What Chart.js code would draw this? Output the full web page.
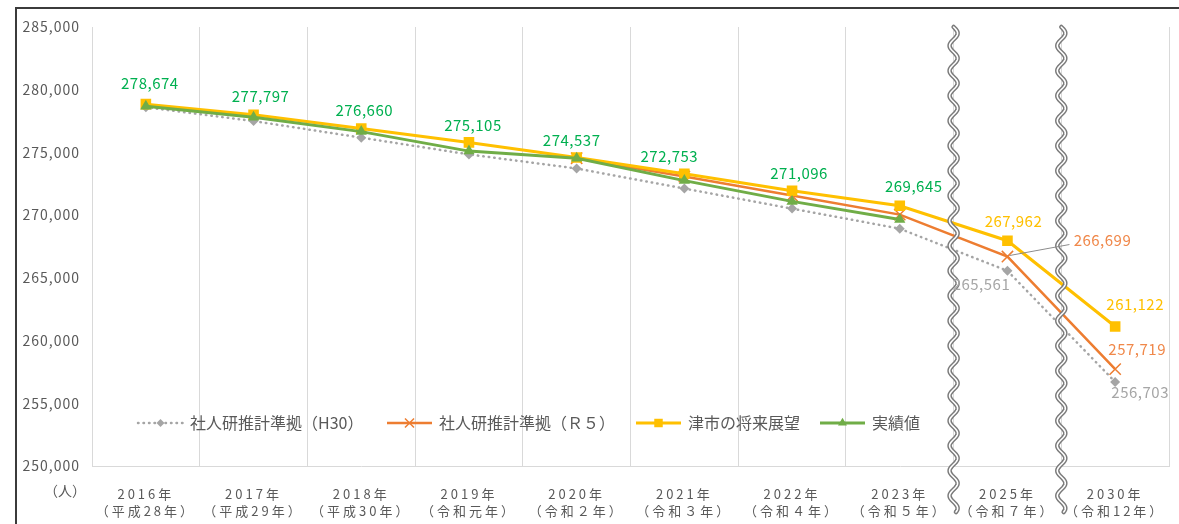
<!DOCTYPE html>
<html lang="ja">
<head>
<meta charset="utf-8">
<script src="https://cdn.jsdelivr.net/npm/chart.js@4.4.1/dist/chart.umd.min.js"></script>
<style>
  html, body { margin: 0; padding: 0; width: 1179px; height: 524px; overflow: hidden; background: #fff; }
  #frame { position: absolute; left: 15px; top: 7px; width: 1200px; height: 560px; border: 2px solid #3b3b3b; box-sizing: border-box; }
  #wrap { position: absolute; left: 0; top: 0; width: 1179px; height: 524px; }
</style>
</head>
<body>
<div id="frame"></div>
<div id="wrap"><canvas id="chart" width="1179" height="524"></canvas></div>
<script>
// 年次ラベル
const years = [
    ['2016年', '（平成28年）'],
    ['2017年', '（平成29年）'],
    ['2018年', '（平成30年）'],
    ['2019年', '（令和元年）'],
    ['2020年', '（令和２年）'],
    ['2021年', '（令和３年）'],
    ['2022年', '（令和４年）'],
    ['2023年', '（令和５年）'],
    ['2025年', '（令和７年）'],
    ['2030年', '（令和12年）']
];

// 系列データ（人）
const actual   = [278674, 277797, 276660, 275105, 274537, 272753, 271096, 269645, null, null];
const tsuPlan  = [278850, 278000, 276900, 275800, 274600, 273300, 271950, 270750, 267962, 261122];
const ipssR5   = [null, null, null, null, 274537, 273080, 271560, 270040, 266699, 257719];
const ipssH30  = [278600, 277500, 276180, 274840, 273720, 272120, 270520, 268920, 265561, 256703];

// 軸目盛
const yMin = 250000;
const yMax = 285000;
const yStep = 5000;

const FONT = '"Noto Sans CJK JP", "Noto Sans", sans-serif';
const GREY_TEXT = '#595959';

// 表示する数値ラベル（系列, 年index, ずらし量）
const valueLabels = [
    { ds: 0, i: 0, dx: 4, dy: -23, color: '#00B050' },
    { ds: 0, i: 1, dx: 7, dy: -21, color: '#00B050' },
    { ds: 0, i: 2, dx: 3, dy: -21, color: '#00B050' },
    { ds: 0, i: 3, dx: 4, dy: -26, color: '#00B050' },
    { ds: 0, i: 4, dx: -5, dy: -18, color: '#00B050' },
    { ds: 0, i: 5, dx: -15, dy: -24, color: '#00B050' },
    { ds: 0, i: 6, dx: 7, dy: -28, color: '#00B050' },
    { ds: 0, i: 7, dx: 14, dy: -33, color: '#00B050' },
    { ds: 1, i: 8, dx: 6, dy: -19, color: '#FFC000' },
    { ds: 1, i: 9, dx: 20, dy: -22, color: '#FFC000' },
    { ds: 2, i: 8, dx: 95, dy: -16, color: '#F0884A', leader: true },
    { ds: 2, i: 9, dx: 22, dy: -20, color: '#F0884A' },
    { ds: 3, i: 8, dx: -26, dy: 13, color: '#A6A6A6' },
    { ds: 3, i: 9, dx: 25, dy: 10, color: '#A6A6A6' }
];

// 凡例
const legendItems = [
    { ds: 3, text: '社人研推計準拠（H30）', x: 46 },
    { ds: 2, text: '社人研推計準拠（Ｒ５）', x: 295 },
    { ds: 1, text: '津市の将来展望', x: 544 },
    { ds: 0, text: '実績値', x: 728 }
];

const fmt = v => v.toLocaleString('en-US');

// 目盛文字の字間
const spacingPlugin = {
    id: 'spacing',
    beforeDraw(chart) { chart.ctx.letterSpacing = '1px'; },
    beforeDatasetsDraw(chart) { chart.ctx.letterSpacing = '0px'; },
    afterDatasetsDraw(chart) { chart.ctx.letterSpacing = '3px'; }
};

// 省略記号（波線）
const wavePlugin = {
    id: 'waves',
    afterDraw(chart) {
        const ctx = chart.ctx;
        const xs = chart.scales.x;
        [7, 8].forEach(i => {
            const x = (xs.getPixelForValue(i) + xs.getPixelForValue(i + 1)) / 2;
            const top = chart.chartArea.top;
            const bottom = 512;
            ctx.save();
            ctx.beginPath();
            for (let y = top; y <= bottom; y += 0.5) {
                const px = x + 4 * Math.sin((y - top) / 25 * Math.PI * 2);
                if (y === top) ctx.moveTo(px, y); else ctx.lineTo(px, y);
            }
            ctx.lineCap = 'round';
            ctx.strokeStyle = '#7a7a7a';
            ctx.lineWidth = 4.5;
            ctx.stroke();
            ctx.strokeStyle = '#ffffff';
            ctx.lineWidth = 1.6;
            ctx.stroke();
            ctx.restore();
        });
    }
};

// 数値ラベル・凡例・単位
const labelPlugin = {
    id: 'labels',
    afterDraw(chart) {
        const ctx = chart.ctx;
        ctx.save();
        ctx.letterSpacing = '0.5px';
        ctx.font = '15px ' + FONT;
        ctx.textAlign = 'center';
        ctx.textBaseline = 'middle';
        valueLabels.forEach(l => {
            const pt = chart.getDatasetMeta(l.ds).data[l.i];
            const v = chart.data.datasets[l.ds].data[l.i];
            const lx = pt.x + l.dx;
            const ly = pt.y + l.dy;
            if (l.leader) {
                ctx.beginPath();
                ctx.moveTo(pt.x + 2, pt.y - 1);
                ctx.lineTo(lx - 33, ly + 4);
                ctx.strokeStyle = '#8c8c8c';
                ctx.lineWidth = 1;
                ctx.stroke();
            }
            ctx.fillStyle = l.color;
            ctx.fillText(fmt(v), lx, ly);
        });

        // 凡例
        const ly = 423;
        ctx.letterSpacing = '0px';
        ctx.textAlign = 'left';
        legendItems.forEach(item => {
            const ds = chart.data.datasets[item.ds];
            const x0 = chart.chartArea.left + item.x;
            ctx.save();
            ctx.beginPath();
            ctx.moveTo(x0, ly);
            ctx.lineTo(x0 + 45, ly);
            ctx.strokeStyle = ds.borderColor;
            ctx.lineWidth = ds.borderWidth;
            ctx.setLineDash(ds.borderDash || []);
            ctx.lineCap = ds.borderCapStyle || 'butt';
            ctx.stroke();
            ctx.restore();
            ctx.save();
            ctx.fillStyle = ds.pointBackgroundColor || ds.borderColor;
            ctx.strokeStyle = ds.pointBorderColor || ds.borderColor;
            ctx.lineWidth = ds.pointBorderWidth;
            Chart.helpers.drawPoint(ctx, {
                pointStyle: ds.pointStyle,
                radius: ds.pointRadius * 0.8,
                borderWidth: ds.pointBorderWidth
            }, x0 + 22.5, ly);
            ctx.restore();
            ctx.fillStyle = GREY_TEXT;
            ctx.font = '16px ' + FONT;
            ctx.fillText(item.text, x0 + 52, ly);
        });

        // 単位
        ctx.textAlign = 'right';
        ctx.font = '14px ' + FONT;
        ctx.fillStyle = GREY_TEXT;
        ctx.fillText('（人）', 86, 491);
        ctx.restore();
    }
};

const chart = new Chart(document.getElementById('chart').getContext('2d'), {
    type: 'line',
    data: {
        labels: years,
        datasets: [
            {
                label: '実績値',
                data: actual,
                borderColor: '#70AD47',
                backgroundColor: '#70AD47',
                borderWidth: 3,
                pointStyle: 'triangle',
                pointRadius: 6.5,
                pointBorderWidth: 0,
                pointBackgroundColor: '#70AD47'
            },
            {
                label: '津市の将来展望',
                data: tsuPlan,
                borderColor: '#FFC000',
                backgroundColor: '#FFC000',
                borderWidth: 3,
                pointStyle: 'rect',
                pointRadius: 7.5,
                pointBorderWidth: 0,
                pointBackgroundColor: '#FFC000'
            },
            {
                label: '社人研推計準拠（Ｒ５）',
                data: ipssR5,
                borderColor: '#ED7D31',
                backgroundColor: '#ED7D31',
                borderWidth: 2.5,
                pointStyle: 'crossRot',
                pointRadius: 8,
                pointBorderWidth: 1.5,
                pointBorderColor: '#ED7D31'
            },
            {
                label: '社人研推計準拠（H30）',
                data: ipssH30,
                borderColor: '#A5A5A5',
                backgroundColor: '#A5A5A5',
                borderWidth: 2.5,
                borderDash: [0.5, 5],
                borderCapStyle: 'round',
                pointStyle: 'rectRot',
                pointRadius: 5,
                pointBorderWidth: 0,
                pointBackgroundColor: '#A5A5A5'
            }
        ]
    },
    options: {
        responsive: false,
        animation: false,
        devicePixelRatio: 1,
        spanGaps: false,
        layout: { padding: { top: 27, right: 10, bottom: 0, left: 0 } },
        plugins: {
            legend: { display: false },
            tooltip: { enabled: false }
        },
        scales: {
            x: {
                offset: true,
                grid: { offset: true, color: '#D9D9D9', drawTicks: false },
                border: { color: '#D9D9D9' },
                ticks: {
                    z: 1,
                    color: GREY_TEXT,
                    font: { family: FONT, size: 13, lineHeight: 1.3 },
                    padding: 20,
                    maxRotation: 0,
                    autoSkip: false
                },
                afterFit(scale) { scale.height = 58; }
            },
            y: {
                min: yMin,
                max: yMax,
                grid: { display: false },
                border: { display: false },
                ticks: {
                    stepSize: yStep,
                    color: GREY_TEXT,
                    font: { family: FONT, size: 14 },
                    padding: 4,
                    callback: v => fmt(v)
                },
                afterFit(scale) { scale.width = 92; }
            }
        }
    },
    plugins: [spacingPlugin, wavePlugin, labelPlugin]
});
</script>
</body>
</html>
